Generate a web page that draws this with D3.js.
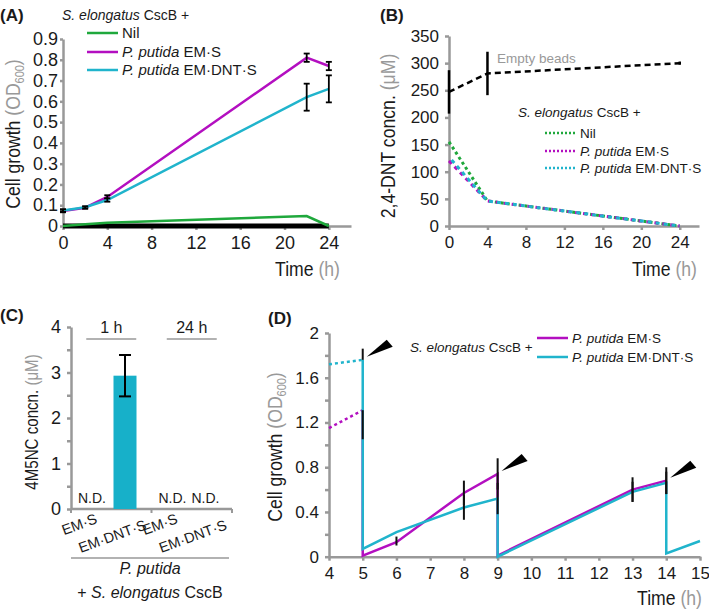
<!DOCTYPE html>
<html>
<head>
<meta charset="utf-8">
<script src="https://cdn.jsdelivr.net/npm/d3@7"></script>
<style>
  body { margin: 0; background: #fff; }
  svg { font-family: "Liberation Sans", Arial, sans-serif; }
</style>
</head>
<body>
<div id="chart"></div>
<script>
// ---- data ----
// (A) cell growth, OD600
var timeA = [0, 2, 4, 22, 24];
var blankA = [0, 0, 0, 0, 0];
var nilA = [0.0, 0.008, 0.016, 0.048, 0.0];
var emsA = [0.072, 0.088, 0.14, 0.81, 0.77];
var emdntsA = [0.075, 0.09, 0.125, 0.62, 0.66];
var emsErrA = [0.006, 0.005, 0.008, 0.02, 0.02];
var emdntsErrA = [0.006, 0.005, 0.008, 0.065, 0.065];
var ticksA = [0, 4, 8, 12, 16, 20, 24];

// (B) 2,4-DNT, uM
var timeB = [0, 4, 24];
var emptyB = [247, 281, 300];
var emptyErrB = [40, 40, 3];
var nilB = [155, 46, 0];
var emsB = [120, 46, 0];
var emdntsB = [127, 46, 0];
var ticksB = [0, 4, 8, 12, 16, 20, 24];

// (C) 4M5NC, uM
var strainsC = ["EM\u00b7S", "EM\u00b7DNT\u00b7S"];
var groupsC = ["1 h", "24 h"];
var barsC = [
  {group: "1 h", strain: "EM\u00b7S", value: null, err: null},
  {group: "1 h", strain: "EM\u00b7DNT\u00b7S", value: 2.93, err: 0.455},
  {group: "24 h", strain: "EM\u00b7S", value: null, err: null},
  {group: "24 h", strain: "EM\u00b7DNT\u00b7S", value: null, err: null}
];

// (D) repeated cycles, OD600
var preTimeD = [4, 5];
var emsPreD = [1.15, 1.31];
var emdntsPreD = [1.72, 1.76];
var emsTimeD = [5, 5, 6, 8, 9, 9, 13, 14];
var emsD = [1.31, 0.01, 0.13, 0.57, 0.74, 0.01, 0.60, 0.68];
var emsLoD = [0.26, 0, 0.03, 0.11, 0.14, 0, 0.11, 0.12];
var emsHiD = [0, 0, 0.05, 0.11, 0.14, 0, 0.11, 0.12];
var emdntsTimeD = [5, 5, 6, 8, 9, 9, 13, 14, 14, 15];
var emdntsD = [1.76, 0.07, 0.22, 0.44, 0.52, 0.0, 0.58, 0.66, 0.03, 0.14];
var emdntsLoD = [0, 0, 0, 0.11, 0.14, 0, 0.09, 0.1, 0, 0];
var emdntsHiD = [0.1, 0, 0, 0.11, 0.14, 0, 0.09, 0.1, 0, 0];
var arrowTimeD = [5, 9, 14];
var arrowValD = [1.76, 0.74, 0.68];

var green = "#1fa83c", magenta = "#b30fc0", cyan = "#20b4cc", gray = "#999", ink = "#1a1a1a";

var svg = d3.select("#chart").append("svg")
  .attr("width", 709).attr("height", 612);

function styleAxis(g, fs) {
  g.selectAll("path, line").attr("stroke", gray).attr("stroke-width", 2.5);
  g.selectAll("text").attr("fill", ink).style("font-size", fs + "px");
}

// axis title with gray unit part, optional subscript; squeezed to a narrow face
function title(x, y, rot, main, unit, sub, fs) {
  var t = svg.append("text")
    .attr("transform", "translate(" + x + "," + y + ")" + (rot ? " rotate(-90)" : "") + " scale(0.84,1)")
    .attr("text-anchor", rot ? "middle" : "end")
    .style("font-size", fs + "px").attr("fill", ink);
  t.append("tspan").text(main + " ");
  if (sub) {
    t.append("tspan").attr("fill", gray).text("(" + unit);
    t.append("tspan").attr("fill", gray).attr("dy", 4).style("font-size", (fs * 0.62) + "px").text(sub);
    t.append("tspan").attr("fill", gray).attr("dy", -4).text(")");
  } else {
    t.append("tspan").attr("fill", gray).text("(" + unit + ")");
  }
}

function panelLabel(x, y, s) {
  svg.append("text").attr("x", x).attr("y", y).text(s)
    .style("font-size", "17px").style("font-weight", "bold").attr("fill", ink);
}

function legendTitle(x, y, fs) {
  var t = svg.append("text").attr("x", x).attr("y", y).style("font-size", fs + "px").attr("fill", ink);
  t.append("tspan").style("font-style", "italic").text("S. elongatus");
  t.append("tspan").text(" CscB +");
}

function legendItem(x, y, color, dash, strain, fs) {
  svg.append("line").attr("x1", x).attr("x2", x + 31).attr("y1", y).attr("y2", y)
    .attr("stroke", color).attr("stroke-width", 2.5).attr("stroke-dasharray", dash);
  var t = svg.append("text").attr("x", x + 35).attr("y", y + 5).style("font-size", fs + "px").attr("fill", ink);
  if (strain === "Nil") { t.text("Nil"); return; }
  t.append("tspan").style("font-style", "italic").text("P. putida");
  t.append("tspan").text(" " + strain);
}

function series(xs, ys) {
  return xs.map(function(d, i) { return [d, ys[i]]; });
}

// ================= (A) =================
var xA = d3.scaleLinear().domain([0, 26]).range([63, 351]);
var yA = d3.scaleLinear().domain([0, 0.9]).range([226, 39]);
var gA = svg.append("g");

gA.append("g").attr("transform", "translate(0,226)")
  .call(d3.axisBottom(xA).tickValues(ticksA).tickSize(4).tickSizeOuter(0).tickPadding(6).tickFormat(d3.format("d")))
  .call(styleAxis, 18);
gA.append("g").attr("transform", "translate(63,0)")
  .call(d3.axisLeft(yA).tickValues(d3.range(0, 0.95, 0.1)).tickSize(3).tickSizeOuter(0).tickPadding(2)
    .tickFormat(function(d) { return d === 0 ? "0" : d3.format(".1f")(d); }))
  .call(styleAxis, 18);

var lineA = d3.line().x(function(d) { return xA(d[0]); }).y(function(d) { return yA(d[1]); });
gA.append("path").datum(series(timeA, blankA)).attr("d", lineA)
  .attr("fill", "none").attr("stroke", "#000").attr("stroke-width", 5);
gA.append("path").datum(series(timeA, nilA)).attr("d", lineA)
  .attr("fill", "none").attr("stroke", green).attr("stroke-width", 2.5);
[[emsA, emsErrA, magenta], [emdntsA, emdntsErrA, cyan]].forEach(function(s) {
  gA.append("path").datum(series(timeA, s[0])).attr("d", lineA)
    .attr("fill", "none").attr("stroke", s[2]).attr("stroke-width", 2.5);
  var eb = gA.append("g").selectAll("g").data(series(timeA, s[0]).map(function(d, i) { return [d[0], d[1], s[1][i]]; }))
    .enter().append("g").attr("stroke", "#000").attr("stroke-width", 1.8);
  eb.append("line").attr("x1", function(d) { return xA(d[0]); }).attr("x2", function(d) { return xA(d[0]); })
    .attr("y1", function(d) { return yA(d[1] - d[2]); }).attr("y2", function(d) { return yA(d[1] + d[2]); });
  [-1, 1].forEach(function(sgn) {
    eb.append("line").attr("x1", function(d) { return xA(d[0]) - 3; }).attr("x2", function(d) { return xA(d[0]) + 3; })
      .attr("y1", function(d) { return yA(d[1] + sgn * d[2]); }).attr("y2", function(d) { return yA(d[1] + sgn * d[2]); });
  });
});

title(20, 134, true, "Cell growth", "OD", "600", 21);
title(340, 276, false, "Time", "h", null, 21);
panelLabel(0, 21, "(A)");
legendTitle(62, 20, 14);
legendItem(87, 33, green, null, "Nil", 15);
legendItem(87, 52, magenta, null, "EM\u00b7S", 15);
legendItem(87, 70, cyan, null, "EM\u00b7DNT\u00b7S", 15);

// ================= (B) =================
var xB = d3.scaleLinear().domain([0, 26]).range([449, 699]);
var yB = d3.scaleLinear().domain([0, 350]).range([226, 36]);
var gB = svg.append("g");

gB.append("g").attr("transform", "translate(0,226)")
  .call(d3.axisBottom(xB).tickValues(ticksB).tickSize(4).tickSizeOuter(0).tickPadding(6).tickFormat(d3.format("d")))
  .call(styleAxis, 17);
gB.append("g").attr("transform", "translate(449,0)")
  .call(d3.axisLeft(yB).tickValues(d3.range(0, 351, 50)).tickSize(4).tickSizeOuter(0).tickPadding(6))
  .call(styleAxis, 17);

var lineB = d3.line().x(function(d) { return xB(d[0]); }).y(function(d) { return yB(d[1]); });
gB.append("g").selectAll("line").data(series(timeB, emptyB).map(function(d, i) { return [d[0], d[1], emptyErrB[i]]; }))
  .enter().append("line")
  .attr("x1", function(d) { return xB(d[0]); }).attr("x2", function(d) { return xB(d[0]); })
  .attr("y1", function(d) { return yB(d[1] - d[2]); }).attr("y2", function(d) { return yB(d[1] + d[2]); })
  .attr("stroke", "#000").attr("stroke-width", 2.5);
gB.append("path").datum(series(timeB, emptyB)).attr("d", lineB)
  .attr("fill", "none").attr("stroke", "#000").attr("stroke-width", 2.5).attr("stroke-dasharray", "6,4");
gB.append("path").datum(series(timeB, nilB)).attr("d", lineB)
  .attr("fill", "none").attr("stroke", green).attr("stroke-width", 3).attr("stroke-dasharray", "3,3");
gB.append("path").datum(series(timeB, emsB)).attr("d", lineB)
  .attr("fill", "none").attr("stroke", magenta).attr("stroke-width", 3).attr("stroke-dasharray", "4,4");
gB.append("path").datum(series(timeB, emdntsB)).attr("d", lineB)
  .attr("fill", "none").attr("stroke", cyan).attr("stroke-width", 3).attr("stroke-dasharray", "4,4").attr("stroke-dashoffset", 4);

svg.append("text").attr("x", 497).attr("y", 63).text("Empty beads")
  .style("font-size", "13.5px").attr("fill", gray);
title(395, 136, true, "2,4-DNT concn.", "\u03bcM", null, 21);
title(697, 276, false, "Time", "h", null, 21);
panelLabel(380, 21, "(B)");
legendTitle(518, 117, 13.5);
legendItem(545, 133, green, "2,2", "Nil", 13.5);
legendItem(545, 151, magenta, "2,2", "EM\u00b7S", 13.5);
legendItem(545, 168, cyan, "2,2", "EM\u00b7DNT\u00b7S", 13.5);

// ================= (C) =================
var xgC = d3.scaleBand().domain(groupsC).range([71, 232]);
var xsC = d3.scalePoint().domain(strainsC).range([21, 54]);
var yC = d3.scaleLinear().domain([0, 4]).range([509, 327]);
var barW = 23;
function cx(d) { return xgC(d.group) + xsC(d.strain); }
var gC = svg.append("g");

gC.append("g").attr("transform", "translate(71,0)")
  .call(d3.axisLeft(yC).tickValues(d3.range(0, 4.01, 0.5)).tickSize(4).tickSizeOuter(0).tickPadding(6)
    .tickFormat(function(d) { return d % 1 === 0 ? d : ""; }))
  .call(styleAxis, 18);
var axC = gC.append("g").attr("transform", "translate(0,509)");
axC.append("line").attr("x1", 71).attr("x2", 232).attr("stroke", gray).attr("stroke-width", 2.5);
axC.selectAll(".gt").data(groupsC.concat(["end"])).enter().append("line")
  .attr("x1", function(d) { return d === "end" ? 232 : xgC(d); })
  .attr("x2", function(d) { return d === "end" ? 232 : xgC(d); })
  .attr("y1", 0).attr("y2", 4).attr("stroke", gray).attr("stroke-width", 2);

gC.selectAll("rect").data(barsC.filter(function(d) { return d.value !== null; })).enter().append("rect")
  .attr("x", function(d) { return cx(d) - barW / 2; }).attr("width", barW)
  .attr("y", function(d) { return yC(d.value); }).attr("height", function(d) { return yC(0) - yC(d.value); })
  .attr("fill", "#17b0c9");
var ebC = gC.selectAll(".eb").data(barsC.filter(function(d) { return d.err !== null; })).enter().append("g")
  .attr("stroke", "#000").attr("stroke-width", 2);
ebC.append("line").attr("x1", cx).attr("x2", cx)
  .attr("y1", function(d) { return yC(d.value - d.err); }).attr("y2", function(d) { return yC(d.value + d.err); });
[-1, 1].forEach(function(sgn) {
  ebC.append("line").attr("x1", function(d) { return cx(d) - 6; }).attr("x2", function(d) { return cx(d) + 6; })
    .attr("y1", function(d) { return yC(d.value + sgn * d.err); }).attr("y2", function(d) { return yC(d.value + sgn * d.err); });
});
gC.selectAll(".nd").data(barsC.filter(function(d) { return d.value === null; })).enter().append("text")
  .attr("x", cx).attr("y", 503).attr("text-anchor", "middle").text("N.D.")
  .style("font-size", "14px").attr("fill", ink);
gC.selectAll(".xl").data(barsC).enter().append("text")
  .attr("transform", function(d) {
    var long = d.strain.length > 5;
    return "translate(" + (cx(d) - 11) + "," + (long ? 541 : 529) + ") rotate(-20)";
  })
  .attr("text-anchor", "middle").text(function(d) { return d.strain; })
  .style("font-size", "14.5px").attr("fill", ink);
gC.selectAll(".gl").data(groupsC).enter().append("line")
  .attr("x1", function(d) { return xgC(d) + xgC.bandwidth() / 2 - 25; })
  .attr("x2", function(d) { return xgC(d) + xgC.bandwidth() / 2 + 25; })
  .attr("y1", 339).attr("y2", 339).attr("stroke", gray).attr("stroke-width", 1.5);
gC.selectAll(".gtx").data(groupsC).enter().append("text")
  .attr("x", function(d) { return xgC(d) + xgC.bandwidth() / 2; }).attr("y", 333)
  .attr("text-anchor", "middle").text(function(d) { return d; })
  .style("font-size", "16px").attr("fill", ink);
gC.append("line").attr("x1", 71).attr("x2", 229).attr("y1", 558).attr("y2", 558)
  .attr("stroke", gray).attr("stroke-width", 1.5);
svg.append("text").attr("x", 150).attr("y", 574).attr("text-anchor", "middle")
  .style("font-size", "16px").style("font-style", "italic").attr("fill", ink).text("P. putida");
var t2 = svg.append("text").attr("x", 150).attr("y", 598).attr("text-anchor", "middle")
  .style("font-size", "16px").attr("fill", ink);
t2.append("tspan").text("+ ");
t2.append("tspan").style("font-style", "italic").text("S. elongatus");
t2.append("tspan").text(" CscB");
title(38, 422, true, "4M5NC concn.", "\u03bcM", null, 18);
panelLabel(0, 321, "(C)");

// ================= (D) =================
var xD = d3.scaleLinear().domain([4, 15]).range([329, 700]);
var yD = d3.scaleLinear().domain([0, 2]).range([556.7, 333]);
var gD = svg.append("g");

gD.append("g").attr("transform", "translate(0,556.7)")
  .call(d3.axisBottom(xD).tickValues(d3.range(4, 16)).tickSize(4).tickSizeOuter(0).tickPadding(6))
  .call(styleAxis, 17);
gD.append("g").attr("transform", "translate(329,0)")
  .call(d3.axisLeft(yD).tickValues(d3.range(0, 2.01, 0.2)).tickSize(4).tickSizeOuter(0).tickPadding(6)
    .tickFormat(function(d) { var k = Math.round(d * 10); return k % 4 === 0 ? (k === 0 ? "0" : (k % 10 === 0 ? d3.format("d")(d) : d3.format(".1f")(d))) : ""; }))
  .call(styleAxis, 17);

var lineD = d3.line().x(function(d) { return xD(d[0]); }).y(function(d) { return yD(d[1]); });
gD.append("path").datum(series(preTimeD, emsPreD)).attr("d", lineD)
  .attr("fill", "none").attr("stroke", magenta).attr("stroke-width", 2.5).attr("stroke-dasharray", "3,3");
gD.append("path").datum(series(preTimeD, emdntsPreD)).attr("d", lineD)
  .attr("fill", "none").attr("stroke", cyan).attr("stroke-width", 2.5).attr("stroke-dasharray", "3,3");
gD.append("path").datum(series(emsTimeD, emsD)).attr("d", lineD)
  .attr("fill", "none").attr("stroke", magenta).attr("stroke-width", 2.5);
gD.append("path").datum(series(emdntsTimeD, emdntsD)).attr("d", lineD)
  .attr("fill", "none").attr("stroke", cyan).attr("stroke-width", 2.5);

var errD = series(emsTimeD, emsD).map(function(d, i) { return [d[0], d[1] - emsLoD[i], d[1] + emsHiD[i]]; })
  .concat(series(emdntsTimeD, emdntsD).map(function(d, i) { return [d[0], d[1] - emdntsLoD[i], d[1] + emdntsHiD[i]]; }))
  .filter(function(d) { return d[2] - d[1] > 0; });
gD.append("g").selectAll("line").data(errD).enter().append("line")
  .attr("x1", function(d) { return xD(d[0]); }).attr("x2", function(d) { return xD(d[0]); })
  .attr("y1", function(d) { return yD(d[1]); }).attr("y2", function(d) { return yD(d[2]); })
  .attr("stroke", "#111").attr("stroke-width", 2);

gD.append("g").selectAll("path").data(series(arrowTimeD, arrowValD)).enter().append("path")
  .attr("transform", function(d) { return "translate(" + (xD(d[0]) + 4) + "," + (yD(d[1]) - 3) + ")"; })
  .attr("d", "M0,0 L20,-17 L26,-10 Z").attr("fill", "#000");

title(282, 447, true, "Cell growth", "OD", "600", 21);
title(702, 605, false, "Time", "h", null, 21);
panelLabel(268, 324, "(D)");
legendTitle(410, 352, 13.5);
legendItem(537, 338, magenta, null, "EM\u00b7S", 13.5);
legendItem(537, 357, cyan, null, "EM\u00b7DNT\u00b7S", 13.5);
</script>
</body>
</html>
